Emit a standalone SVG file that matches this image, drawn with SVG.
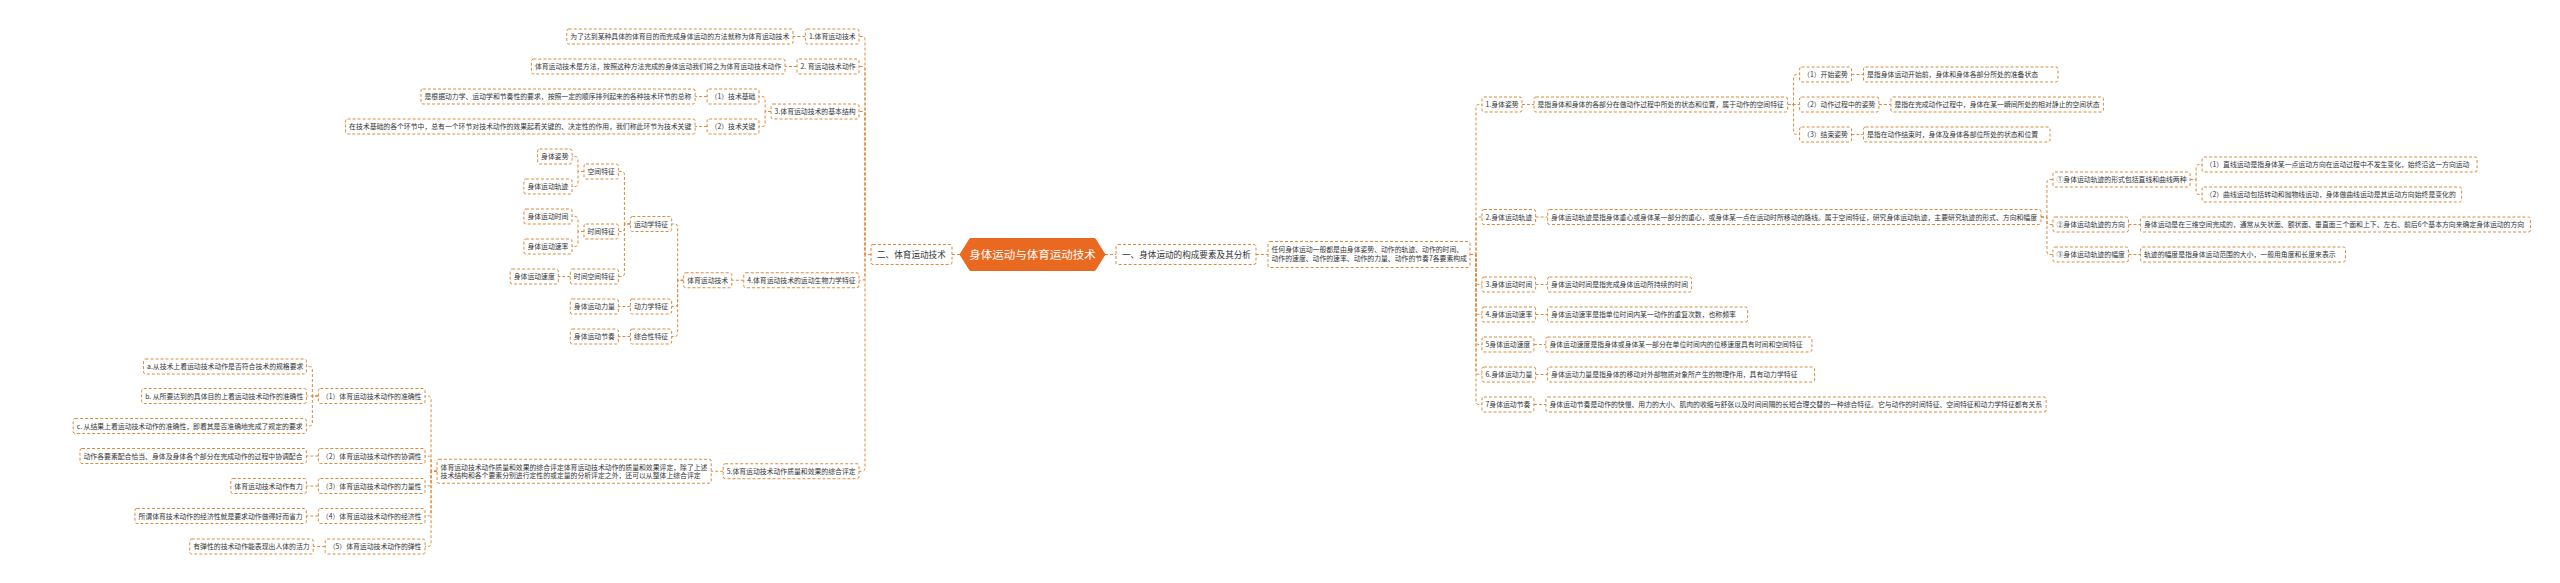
<svg xmlns="http://www.w3.org/2000/svg" width="2560" height="583" viewBox="0 0 2560 583">
<style>
.n rect{fill:#fff;stroke:#dd8a3d;stroke-width:1;stroke-dasharray:3 2}
.t{font-family:"Noto Sans CJK SC","Noto Sans",sans-serif;font-size:6.85px;fill:#333}
.l1 rect{fill:#fff;stroke:#dd8a3d;stroke-width:1;stroke-dasharray:3 2}
.t1{font-family:"Noto Sans CJK SC","Noto Sans",sans-serif;font-size:8.6px;fill:#333}
.c path{fill:none;stroke:#dd8a3d;stroke-width:1;stroke-dasharray:3 2}
</style>
<rect width="2560" height="583" fill="#fff"/>
<g class="c" id="connectors">
<path d="M952 254.5H960M1105 254.5H1116M1256 254.5H1268"/>
<path d="M871 254.5H865V39.5Q865 36.5 862 36.5H859M871 254.5H865V69.5Q865 66.5 862 66.5H859M871 254.5H865V114.5Q865 111.5 862 111.5H859M871 254.5H865V277.25Q865 280.25 862 280.25H859M871 254.5H865V468.25Q865 471.25 862 471.25H859"/>
<path d="M805.4 36.5H793M797 66.5H785"/>
<path d="M771.1 111.5H765.1V99.5Q765.1 96.5 762.1 96.5H759M771.1 111.5H765.1V123.5Q765.1 126.5 762.1 126.5H759"/>
<path d="M707.1 96.5H695.1M707.1 126.5H695.1"/>
<path d="M743.75 280.25H731.75"/>
<path d="M683.65 280.25H677.65V227Q677.65 224 674.65 224H671.65M683.65 280.25H677.65V303.5Q677.65 306.5 674.65 306.5H671.65M683.65 280.25H677.65V333.5Q677.65 336.5 674.65 336.5H671.65"/>
<path d="M630.4 224H624.4V174.5Q624.4 171.5 621.4 171.5H618.4M630.4 224H624.4V228.5Q624.4 231.5 621.4 231.5H618.4M630.4 224H624.4V273.5Q624.4 276.5 621.4 276.5H618.4"/>
<path d="M584 171.5H578V159.5Q578 156.5 575 156.5H572M584 171.5H578V183.5Q578 186.5 575 186.5H572"/>
<path d="M584 231.5H578V219.5Q578 216.5 575 216.5H572M584 231.5H578V243.5Q578 246.5 575 246.5H572"/>
<path d="M570.3 276.5H558.3M630.4 306.5H618.4M630.4 336.5H618.4"/>
<path d="M723.2 471.25H711.2"/>
<path d="M437.05 471.25H431.05V399Q431.05 396 428.05 396H425.05M437.05 471.25H431.05V459Q431.05 456 428.05 456H425.05M437.05 471.25H431.05V483Q431.05 486 428.05 486H425.05M437.05 471.25H431.05V513Q431.05 516 428.05 516H425.05M437.05 471.25H431.05V543.5Q431.05 546.5 428.05 546.5H425.05"/>
<path d="M318.35 396H312.35V369.5Q312.35 366.5 309.35 366.5H306.35M318.35 396H306.35M318.35 396H312.35V423Q312.35 426 309.35 426H306.35"/>
<path d="M318.35 456H306.35M318.35 486H306.35M318.35 516H306.35M325.2 546.5H313.2"/>
<path d="M1470 254.5H1476V107.5Q1476 104.5 1479 104.5H1482M1470 254.5H1476V220Q1476 217 1479 217H1482M1470 254.5H1476V281.5Q1476 284.5 1479 284.5H1482M1470 254.5H1476V311.5Q1476 314.5 1479 314.5H1482M1470 254.5H1476V341.5Q1476 344.5 1479 344.5H1482M1470 254.5H1476V371.5Q1476 374.5 1479 374.5H1482M1470 254.5H1476V401.5Q1476 404.5 1479 404.5H1482"/>
<path d="M1522 104.5H1534"/>
<path d="M1787.6 104.5H1793.6V77.5Q1793.6 74.5 1796.6 74.5H1799.6M1787.6 104.5H1799.6M1787.6 104.5H1793.6V131.5Q1793.6 134.5 1796.6 134.5H1799.6"/>
<path d="M1851.5 74.5H1863.5M1878.9 104.5H1890.9M1851.5 134.5H1863.5"/>
<path d="M1535.6 217H1547.6"/>
<path d="M2040.95 217H2046.95V182.5Q2046.95 179.5 2049.95 179.5H2052.95M2040.95 217H2046.95V221.5Q2046.95 224.5 2049.95 224.5H2052.95M2040.95 217H2046.95V251.5Q2046.95 254.5 2049.95 254.5H2052.95"/>
<path d="M2190.1 179.5H2196.1V167.5Q2196.1 164.5 2199.1 164.5H2202.1M2190.1 179.5H2196.1V191.5Q2196.1 194.5 2199.1 194.5H2202.1"/>
<path d="M2128.45 224.5H2140.45M2128.45 254.5H2140.45"/>
<path d="M1535.6 284.5H1547.6M1535.6 314.5H1547.6M1533.9 344.5H1545.9M1535.6 374.5H1547.6M1533.9 404.5H1545.9"/>
</g>
<g id="root">
<path d="M960 254.5L970 238.5H1095L1105 254.5L1095 270.5H970Z" fill="#e8691f" stroke="#e8691f" stroke-width="1" stroke-linejoin="round"/>
<text x="1032.5" y="258.7" text-anchor="middle" style="font-family:'Noto Sans CJK SC','Noto Sans',sans-serif;font-size:11.5px;fill:#fff">身体运动与体育运动技术</text>
</g>
<g id="b2" class="l1"><rect x="871" y="244.5" width="81" height="20" rx="2"/><text class="t1" x="877" y="257.5">二、体育运动技术</text></g>
<g id="b1" class="l1"><rect x="1116" y="244.5" width="140" height="20" rx="2"/><text class="t1" x="1122" y="257.5">一、身体运动的构成要素及其分析</text></g>
<g id="L1" class="n"><rect x="805.4" y="29" width="53.6" height="15" rx="2"/><text class="t" x="808.9" y="39">1.体育运动技术</text></g>
<g id="L1t" class="n"><rect x="566.8" y="29" width="226.2" height="15" rx="2"/><text class="t" x="570.3" y="39">为了达到某种具体的体育目的而完成身体运动的方法就称为体育运动技术</text></g>
<g id="L2" class="n"><rect x="797" y="59" width="62" height="15" rx="2"/><text class="t" x="800.5" y="69">2. 育运动技术动作</text></g>
<g id="L2t" class="n"><rect x="531.4" y="59" width="253.6" height="15" rx="2"/><text class="t" x="534.9" y="69">体育运动技术是方法，按照这种方法完成的身体运动我们将之为体育运动技术动作</text></g>
<g id="L3" class="n"><rect x="771.1" y="104" width="87.9" height="15" rx="2"/><text class="t" x="774.6" y="114">3.体育运动技术的基本结构</text></g>
<g id="L3a" class="n"><rect x="707.1" y="89" width="51.9" height="15" rx="2"/><text class="t" x="710.6" y="99">（1）技术基础</text></g>
<g id="L3b" class="n"><rect x="707.1" y="119" width="51.9" height="15" rx="2"/><text class="t" x="710.6" y="129">（2）技术关键</text></g>
<g id="L3at" class="n"><rect x="420.95" y="89" width="274.15" height="15" rx="2"/><text class="t" x="424.45" y="99">是根据动力学、运动学和节奏性的要求，按照一定的顺序排列起来的各种技术环节的总称</text></g>
<g id="L3bt" class="n"><rect x="345.6" y="119" width="349.5" height="15" rx="2"/><text class="t" x="349.1" y="129">在技术基础的各个环节中，总有一个环节对技术动作的效果起着关键的、决定性的作用，我们称此环节为技术关键</text></g>
<g id="L4" class="n"><rect x="743.75" y="272.75" width="115.25" height="15" rx="2"/><text class="t" x="747.25" y="282.75">4.体育运动技术的运动生物力学特征</text></g>
<g id="L4a" class="n"><rect x="683.65" y="272.75" width="48.1" height="15" rx="2"/><text class="t" x="687.15" y="282.75">体育运动技术</text></g>
<g id="L4b" class="n"><rect x="630.4" y="216.5" width="41.25" height="15" rx="2"/><text class="t" x="633.9" y="226.5">运动学特征</text></g>
<g id="L4c" class="n"><rect x="630.4" y="299" width="41.25" height="15" rx="2"/><text class="t" x="633.9" y="309">动力学特征</text></g>
<g id="L4d" class="n"><rect x="630.4" y="329" width="41.25" height="15" rx="2"/><text class="t" x="633.9" y="339">综合性特征</text></g>
<g id="L4e" class="n"><rect x="584" y="164" width="34.4" height="15" rx="2"/><text class="t" x="587.5" y="174">空间特征</text></g>
<g id="L4f" class="n"><rect x="584" y="224" width="34.4" height="15" rx="2"/><text class="t" x="587.5" y="234">时间特征</text></g>
<g id="L4g" class="n"><rect x="570.3" y="269" width="48.1" height="15" rx="2"/><text class="t" x="573.8" y="279">时间空间特征</text></g>
<g id="L4h" class="n"><rect x="537.6" y="149" width="34.4" height="15" rx="2"/><text class="t" x="541.1" y="159">身体姿势</text></g>
<g id="L4i" class="n"><rect x="523.9" y="179" width="48.1" height="15" rx="2"/><text class="t" x="527.4" y="189">身体运动轨迹</text></g>
<g id="L4j" class="n"><rect x="523.9" y="209" width="48.1" height="15" rx="2"/><text class="t" x="527.4" y="219">身体运动时间</text></g>
<g id="L4k" class="n"><rect x="523.9" y="239" width="48.1" height="15" rx="2"/><text class="t" x="527.4" y="249">身体运动速率</text></g>
<g id="L4l" class="n"><rect x="510.2" y="269" width="48.1" height="15" rx="2"/><text class="t" x="513.7" y="279">身体运动速度</text></g>
<g id="L4m" class="n"><rect x="570.3" y="299" width="48.1" height="15" rx="2"/><text class="t" x="573.8" y="309">身体运动力量</text></g>
<g id="L4n" class="n"><rect x="570.3" y="329" width="48.1" height="15" rx="2"/><text class="t" x="573.8" y="339">身体运动节奏</text></g>
<g id="L5" class="n"><rect x="723.2" y="463.75" width="135.8" height="15" rx="2"/><text class="t" x="726.7" y="473.75">5.体育运动技术动作质量和效果的综合评定</text></g>
<g id="L5t" class="n"><rect x="437.05" y="459.25" width="274.15" height="24" rx="2"/><text class="t" x="440.55" y="469.5">体育运动技术动作质量和效果的综合评定体育运动技术动作的质量和效果评定，除了上述</text><text class="t" x="440.55" y="478">技术结构和各个要素分别进行定性的或定量的分析评定之外，还可以从整体上综合评定</text></g>
<g id="L5a" class="n"><rect x="318.35" y="388.5" width="106.7" height="15" rx="2"/><text class="t" x="321.85" y="398.5">（1）体育运动技术动作的准确性</text></g>
<g id="L5b" class="n"><rect x="318.35" y="448.5" width="106.7" height="15" rx="2"/><text class="t" x="321.85" y="458.5">（2）体育运动技术动作的协调性</text></g>
<g id="L5c" class="n"><rect x="318.35" y="478.5" width="106.7" height="15" rx="2"/><text class="t" x="321.85" y="488.5">（3）体育运动技术动作的力量性</text></g>
<g id="L5d" class="n"><rect x="318.35" y="508.5" width="106.7" height="15" rx="2"/><text class="t" x="321.85" y="518.5">（4）体育运动技术动作的经济性</text></g>
<g id="L5e" class="n"><rect x="325.2" y="539" width="99.85" height="15" rx="2"/><text class="t" x="328.7" y="549">（5）体育运动技术动作的弹性</text></g>
<g id="L5a1" class="n"><rect x="143.55" y="359" width="162.8" height="15" rx="2"/><text class="t" x="147.05" y="369">a.从技术上看运动技术动作是否符合技术的规格要求</text></g>
<g id="L5a2" class="n"><rect x="141.65" y="388.5" width="164.7" height="15" rx="2"/><text class="t" x="145.15" y="398.5">b. 从所要达到的具体目的上看运动技术动作的准确性</text></g>
<g id="L5a3" class="n"><rect x="73.15" y="418.5" width="233.2" height="15" rx="2"/><text class="t" x="76.65" y="428.5">c. 从结果上看运动技术动作的准确性，即看其是否准确地完成了规定的要求</text></g>
<g id="L5bt" class="n"><rect x="80" y="448.5" width="226.35" height="15" rx="2"/><text class="t" x="83.5" y="458.5">动作各要素配合恰当、身体及身体各个部分在完成动作的过程中协调配合</text></g>
<g id="L5ct" class="n"><rect x="230.85" y="478.5" width="75.5" height="15" rx="2"/><text class="t" x="234.35" y="488.5">体育运动技术动作有力</text></g>
<g id="L5dt" class="n"><rect x="134.95" y="508.5" width="171.4" height="15" rx="2"/><text class="t" x="138.45" y="518.5">所谓体育技术动作的经济性就是要求动作做得好而省力</text></g>
<g id="L5et" class="n"><rect x="189.75" y="539" width="123.45" height="15" rx="2"/><text class="t" x="193.25" y="549">有弹性的技术动作能表现出人体的活力</text></g>
<g id="R0t" class="n"><rect x="1268" y="241.5" width="202" height="26" rx="2"/><text class="t" x="1271.5" y="252.2">任何身体运动一般都是由身体姿势、动作的轨迹、动作的时间、</text><text class="t" x="1271.5" y="261.2">动作的速度、动作的速率、动作的力量、动作的节奏7各要素构成</text></g>
<g id="R1" class="n"><rect x="1482" y="97" width="40" height="15" rx="2"/><text class="t" x="1485.5" y="107">1.身体姿势</text></g>
<g id="R1t" class="n"><rect x="1534" y="97" width="253.6" height="15" rx="2"/><text class="t" x="1537.5" y="107">是指身体和身体的各部分在做动作过程中所处的状态和位置，属于动作的空间特征</text></g>
<g id="R1a" class="n"><rect x="1799.6" y="67" width="51.9" height="15" rx="2"/><text class="t" x="1803.1" y="77">（1）开始姿势</text></g>
<g id="R1at" class="n"><rect x="1863.5" y="67" width="194.5" height="15" rx="2"/><text class="t" x="1867" y="77">是指身体运动开始前，身体和身体各部分所处的准备状态</text></g>
<g id="R1b" class="n"><rect x="1799.6" y="97" width="79.3" height="15" rx="2"/><text class="t" x="1803.1" y="107">（2）动作过程中的姿势</text></g>
<g id="R1bt" class="n"><rect x="1890.9" y="97" width="212.5" height="15" rx="2"/><text class="t" x="1894.4" y="107">是指在完成动作过程中，身体在某一瞬间所处的相对静止的空间状态</text></g>
<g id="R1c" class="n"><rect x="1799.6" y="127" width="51.9" height="15" rx="2"/><text class="t" x="1803.1" y="137">（3）结束姿势</text></g>
<g id="R1ct" class="n"><rect x="1863.5" y="127" width="186.5" height="15" rx="2"/><text class="t" x="1867" y="137">是指在动作结束时，身体及身体各部位所处的状态和位置</text></g>
<g id="R2" class="n"><rect x="1482" y="209.5" width="53.6" height="15" rx="2"/><text class="t" x="1485.5" y="219.5">2.身体运动轨迹</text></g>
<g id="R2t" class="n"><rect x="1547.6" y="209.5" width="493.35" height="15" rx="2"/><text class="t" x="1551.1" y="219.5">身体运动轨迹是指身体重心或身体某一部分的重心，或身体某一点在运动时所移动的路线。属于空间特征，研究身体运动轨迹，主要研究轨迹的形式、方向和幅度</text></g>
<g id="R2a" class="n"><rect x="2052.95" y="172" width="137.15" height="15" rx="2"/><text class="t" x="2056.45" y="182">①身体运动轨迹的形式包括直线和曲线两种</text></g>
<g id="R2a1" class="n"><rect x="2202.1" y="157" width="275" height="15" rx="2"/><text class="t" x="2205.6" y="167">（1）直线运动是指身体某一点运动方向在运动过程中不发生变化，始终沿这一方向运动</text></g>
<g id="R2a2" class="n"><rect x="2202.1" y="187" width="259.5" height="15" rx="2"/><text class="t" x="2205.6" y="197">（2）曲线运动包括转动和抛物线运动，身体做曲线运动是其运动方向始终是变化的</text></g>
<g id="R2b" class="n"><rect x="2052.95" y="217" width="75.5" height="15" rx="2"/><text class="t" x="2056.45" y="227">②身体运动轨迹的方向</text></g>
<g id="R2bt" class="n"><rect x="2140.45" y="217" width="390" height="15" rx="2"/><text class="t" x="2143.95" y="227">身体运动是在三维空间完成的，通常从矢状面、额状面、垂直面三个面和上下、左右、前后6个基本方向来确定身体运动的方向</text></g>
<g id="R2c" class="n"><rect x="2052.95" y="247" width="75.5" height="15" rx="2"/><text class="t" x="2056.45" y="257">③身体运动轨迹的幅度</text></g>
<g id="R2ct" class="n"><rect x="2140.45" y="247" width="205" height="15" rx="2"/><text class="t" x="2143.95" y="257">轨迹的幅度是指身体运动范围的大小，一般用角度和长度来表示</text></g>
<g id="R3" class="n"><rect x="1482" y="277" width="53.6" height="15" rx="2"/><text class="t" x="1485.5" y="287">3.身体运动时间</text></g>
<g id="R3t" class="n"><rect x="1547.6" y="277" width="144" height="15" rx="2"/><text class="t" x="1551.1" y="287">身体运动时间是指完成身体运动所持续的时间</text></g>
<g id="R4" class="n"><rect x="1482" y="307" width="53.6" height="15" rx="2"/><text class="t" x="1485.5" y="317">4.身体运动速率</text></g>
<g id="R4t" class="n"><rect x="1547.6" y="307" width="200" height="15" rx="2"/><text class="t" x="1551.1" y="317">身体运动速率是指单位时间内某一动作的重复次数，也称频率</text></g>
<g id="R5" class="n"><rect x="1482" y="337" width="51.9" height="15" rx="2"/><text class="t" x="1485.5" y="347">5身体运动速度</text></g>
<g id="R5t" class="n"><rect x="1545.9" y="337" width="266" height="15" rx="2"/><text class="t" x="1549.4" y="347">身体运动速度是指身体或身体某一部分在单位时间内的位移速度具有时间和空间特征</text></g>
<g id="R6" class="n"><rect x="1482" y="367" width="53.6" height="15" rx="2"/><text class="t" x="1485.5" y="377">6.身体运动力量</text></g>
<g id="R6t" class="n"><rect x="1547.6" y="367" width="267" height="15" rx="2"/><text class="t" x="1551.1" y="377">身体运动力量是指身体的移动对外部物质对象所产生的物理作用，具有动力学特征</text></g>
<g id="R7" class="n"><rect x="1482" y="397" width="51.9" height="15" rx="2"/><text class="t" x="1485.5" y="407">7身体运动节奏</text></g>
<g id="R7t" class="n"><rect x="1545.9" y="397" width="500.2" height="15" rx="2"/><text class="t" x="1549.4" y="407">身体运动节奏是动作的快慢、用力的大小、肌肉的收缩与舒张以及时间间隔的长短合理交替的一种综合特征。它与动作的时间特征、空间特征和动力学特征都有关系</text></g>
</svg>
